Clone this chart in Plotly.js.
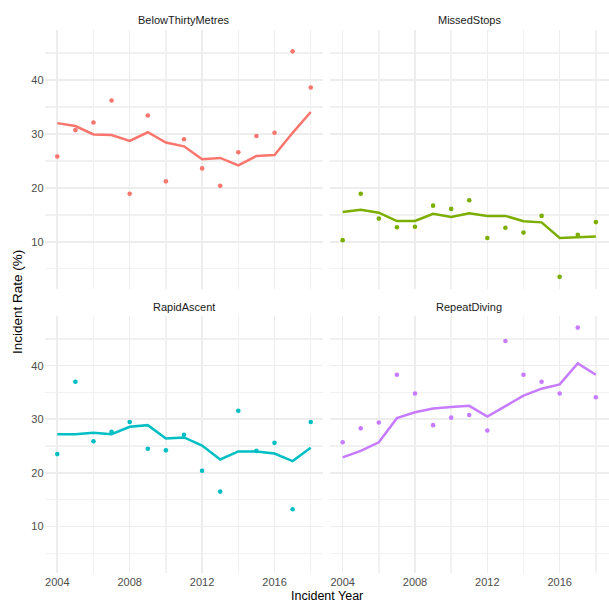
<!DOCTYPE html>
<html>
<head>
<meta charset="utf-8">
<script src="https://cdn.plot.ly/plotly-3.0.1.min.js"></script>
<style>html,body{margin:0;padding:0;background:#fff;}#chart{width:609px;height:604px;}</style>
</head>
<body>
<div id="chart"></div>
<script>
var years = [2004,2005,2006,2007,2008,2009,2010,2011,2012,2013,2014,2015,2016,2017,2018];
var categories = ["BelowThirtyMetres","MissedStops","RapidAscent","RepeatDiving"];

var belowPoints = [25.8,30.7,32.1,36.2,18.9,33.4,21.2,29.0,23.6,20.4,26.6,29.6,30.2,45.3,38.6];
var belowLine   = [32.0,31.45,29.9,29.8,28.7,30.3,28.4,27.7,25.3,25.55,24.15,25.9,26.1,30.2,34.05];

var missedPoints = [10.3,18.9,14.3,12.7,12.8,16.7,16.1,17.7,10.7,12.6,11.7,14.8,3.5,11.3,13.65];
var missedLine   = [15.5,15.95,15.4,13.85,13.85,15.2,14.6,15.3,14.8,14.8,13.8,13.6,10.7,10.8,11.0];

var rapidPoints = [23.5,37.0,25.9,27.65,29.5,24.5,24.2,27.1,20.4,16.5,31.6,24.1,25.6,13.2,29.5];
var rapidLine   = [27.2,27.2,27.5,27.2,28.6,28.9,26.4,26.6,25.1,22.5,24.0,24.0,23.6,22.2,24.7];

var repeatPoints = [25.7,28.3,29.4,38.3,34.8,28.9,30.3,30.8,27.9,44.6,38.3,37.0,34.8,47.1,34.1];
var repeatLine   = [22.9,24.1,25.7,30.2,31.3,32.0,32.3,32.5,30.5,32.5,34.4,35.7,36.5,40.4,38.3];

var colors = ["#F8766D","#7CAE00","#00BFC4","#C77CFF"];
var pointsList = [belowPoints, missedPoints, rapidPoints, repeatPoints];
var linesList = [belowLine, missedLine, rapidLine, repeatLine];

var axisIds = [["x","y"],["x2","y2"],["x3","y3"],["x4","y4"]];
var traces = [];
for (var i = 0; i < 4; i++) {
  traces.push({x: years, y: pointsList[i], type: "scatter", mode: "markers",
    marker: {color: colors[i], size: 4.6}, xaxis: axisIds[i][0], yaxis: axisIds[i][1],
    hoverinfo: "x+y", showlegend: false});
  traces.push({x: years, y: linesList[i], type: "scatter", mode: "lines",
    line: {color: colors[i], width: 2.5}, xaxis: axisIds[i][0], yaxis: axisIds[i][1],
    hoverinfo: "x+y", showlegend: false});
}

var W = 609, H = 604;
var xDomL = [44.6/W, 323.4/W], xDomR = [330/W, 608.5/W];
var yDomT = [(H-288.6)/H, (H-29.9)/H], yDomB = [(H-573)/H, (H-315.9)/H];
var xRange = [2003.3, 2018.7], yRange = [1.32, 49.28];
var tickFont = {family: "Liberation Sans, Arial, sans-serif", size: 11, color: "#4D4D4D"};
var gridMajor = "#EDEDED", gridMinor = "#F1F1F1";

function xa(dom, anchor, showLabels) {
  return {domain: dom, anchor: anchor, range: xRange, tickmode: "linear", tick0: 2004, dtick: 4,
    showticklabels: showLabels, ticks: "", showline: false, zeroline: false,
    showgrid: true, gridcolor: gridMajor, gridwidth: 1.6,
    minor: {tick0: 2004, dtick: 2, showgrid: true, gridcolor: gridMinor, gridwidth: 1.4, ticks: ""},
    tickfont: tickFont, automargin: false, fixedrange: true, ticklabelstandoff: 1};
}
function ya(dom, anchor, showLabels) {
  return {domain: dom, anchor: anchor, range: yRange, tickmode: "linear", tick0: 0, dtick: 10,
    showticklabels: showLabels, ticks: "", showline: false, zeroline: false,
    showgrid: true, gridcolor: gridMajor, gridwidth: 1.6,
    minor: {tick0: 0, dtick: 5, showgrid: true, gridcolor: gridMinor, gridwidth: 1.4, ticks: ""},
    tickfont: tickFont, automargin: false, fixedrange: true};
}

var stripFont = {family: "Liberation Sans, Arial, sans-serif", size: 11, color: "#1A1A1A"};
var titleFont = {family: "Liberation Sans, Arial, sans-serif", size: 13.5, color: "#000000"};
var xTitleFont = {family: "Liberation Sans, Arial, sans-serif", size: 12.5, color: "#000000"};

var layout = {
  width: W, height: H,
  margin: {l: 0, r: 0, t: 0, b: 0},
  paper_bgcolor: "#FFFFFF", plot_bgcolor: "rgba(0,0,0,0)",
  showlegend: false,
  xaxis: xa(xDomL, "y", false), yaxis: ya(yDomT, "x", true),
  xaxis2: xa(xDomR, "y2", false), yaxis2: ya(yDomT, "x2", false),
  xaxis3: xa(xDomL, "y3", true), yaxis3: ya(yDomB, "x3", true),
  xaxis4: xa(xDomR, "y4", true), yaxis4: ya(yDomB, "x4", false),
  annotations: [
    {text: categories[0], xref: "paper", yref: "paper", x: (xDomL[0]+xDomL[1])/2, y: (H-20)/H, xanchor: "center", yanchor: "middle", showarrow: false, font: stripFont},
    {text: categories[1], xref: "paper", yref: "paper", x: (xDomR[0]+xDomR[1])/2, y: (H-20)/H, xanchor: "center", yanchor: "middle", showarrow: false, font: stripFont},
    {text: categories[2], xref: "paper", yref: "paper", x: (xDomL[0]+xDomL[1])/2, y: (H-306.5)/H, xanchor: "center", yanchor: "middle", showarrow: false, font: stripFont},
    {text: categories[3], xref: "paper", yref: "paper", x: (xDomR[0]+xDomR[1])/2, y: (H-306.5)/H, xanchor: "center", yanchor: "middle", showarrow: false, font: stripFont},
    {text: "Incident Year", xref: "paper", yref: "paper", x: (xDomL[0]+xDomR[1])/2, y: 0, xanchor: "center", yanchor: "bottom", borderpad: 0, showarrow: false, font: xTitleFont},
    {text: "Incident Rate (%)", xref: "paper", yref: "paper", x: 17/W, y: (H-302)/H, xanchor: "center", yanchor: "middle", textangle: -90, showarrow: false, font: titleFont}
  ]
};

Plotly.newPlot("chart", traces, layout, {displayModeBar: false, staticPlot: true});
</script>
</body>
</html>
